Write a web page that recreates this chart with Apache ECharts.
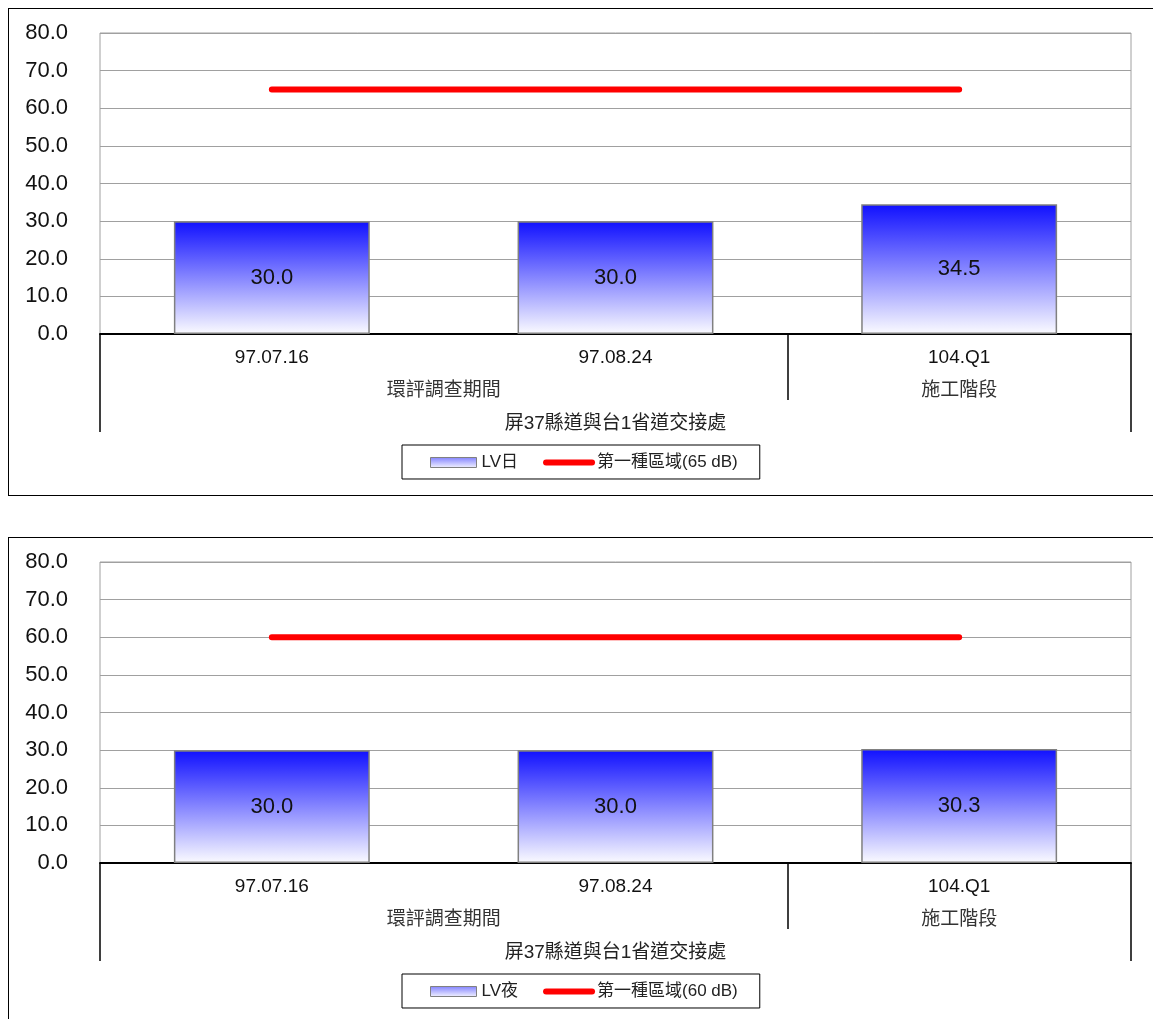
<!DOCTYPE html>
<html>
<head>
<meta charset="utf-8">
<script src="https://cdn.jsdelivr.net/npm/echarts@6/dist/echarts.min.js"></script>
<style>
  html, body { margin: 0; padding: 0; background: #fff; overflow: hidden; width: 1153px; height: 1019px; }
  .chart { position: absolute; left: 0; width: 1153px; height: 529px; }
  .frame { position: absolute; left: 8px; width: 1200px; border: 1px solid #000; pointer-events: none; }
</style>
</head>
<body>
<div id="c1" class="chart" style="top:0px"></div>
<div id="c2" class="chart" style="top:529px"></div>
<div class="frame" style="top:8px; height:486px;"></div>
<div class="frame" style="top:537px; height:600px;"></div>
<script>
// ---- data ----
const categories = ['97.07.16', '97.08.24', '104.Q1'];
const groupLabels = ['環評調查期間', '施工階段'];
const locationName = '屏37縣道與台1省道交接處';
const dayValues = [30.0, 30.0, 34.5];
const nightValues = [30.0, 30.0, 30.3];
const dayLimit = [65, 65, 65];
const nightLimit = [60, 60, 60];
const daySeriesName = 'LV日';
const nightSeriesName = 'LV夜';
const dayLimitName = '第一種區域(65 dB)';
const nightLimitName = '第一種區域(60 dB)';
const yMin = 0, yMax = 80, yStep = 10;

const FONT = '"Liberation Sans", "Noto Sans CJK TC", sans-serif';

function makeOption(barName, barValues, lineName, lineValues) {
  // 7 evenly spaced slots across the axis (boundaryGap false) for group labels and separators
  const groupSlots = ['', '', groupLabels[0], '', '', groupLabels[1], ''];
  const barGradient = new echarts.graphic.LinearGradient(0, 0, 0, 1, [
    { offset: 0, color: '#1010ff' },
    { offset: 1, color: '#fbfbff' }
  ]);
  return {
    animation: false,
    textStyle: { fontFamily: FONT },
    grid: {
      left: 100, right: 22, top: 33, bottom: 195,
      show: true, borderColor: '#a0a0a0', borderWidth: 1, backgroundColor: 'transparent'
    },
    legend: {
      left: 402, top: 445,
      padding: [9, 22, 8, 28],
      borderColor: '#000', borderWidth: 1,
      itemWidth: 46, itemHeight: 10, itemGap: 25,
      textStyle: { fontSize: 17, color: '#222', fontFamily: FONT },
      data: [
        { name: barName, icon: 'rect', itemStyle: { color: new echarts.graphic.LinearGradient(0, 0, 0, 1, [{ offset: 0, color: '#8080ff' }, { offset: 1, color: '#f4f4ff' }]), borderColor: '#808080', borderWidth: 1 } },
        { name: lineName, itemStyle: { opacity: 0 }, lineStyle: { width: 6, color: '#ff0000', cap: 'round' } }
      ]
    },
    xAxis: [
      {
        type: 'category', data: categories, position: 'bottom', boundaryGap: true,
        axisLine: { show: true, lineStyle: { color: '#000', width: 2 } },
        axisTick: { show: false },
        axisLabel: { fontSize: 19, color: '#111', margin: 14, fontFamily: FONT }
      },
      {
        type: 'category', data: groupSlots, position: 'bottom', boundaryGap: false,
        axisLine: { show: false },
        axisTick: { show: true, length: 66, interval: (i) => i === 4, lineStyle: { color: '#000', width: 1.5 } },
        axisLabel: { interval: 0, fontSize: 19, color: '#333', margin: 47, fontFamily: FONT }
      },
      {
        type: 'category', data: groupSlots.map(() => ''), position: 'bottom', boundaryGap: false,
        axisLine: { show: false },
        axisTick: { show: true, length: 98, interval: (i) => i === 0 || i === 6, lineStyle: { color: '#000', width: 1.5 } },
        axisLabel: { show: false },
        name: locationName, nameLocation: 'middle', nameGap: 80,
        nameTextStyle: { fontSize: 19, color: '#222', fontFamily: FONT }
      }
    ],
    yAxis: {
      type: 'value', min: yMin, max: yMax, interval: yStep,
      axisLine: { show: false }, axisTick: { show: false },
      axisLabel: { fontSize: 22, color: '#111', margin: 32, fontFamily: FONT, formatter: (v) => v.toFixed(1) },
      splitLine: { show: true, lineStyle: { color: '#a0a0a0', width: 1.2 } }
    },
    series: [
      {
        name: barName, type: 'bar', xAxisIndex: 0, data: barValues,
        barCategoryGap: '43%',
        itemStyle: { color: barGradient, borderColor: '#808080', borderWidth: 1.5 },
        label: { show: true, position: 'inside', fontSize: 22, color: '#111', fontFamily: FONT, formatter: (p) => p.value.toFixed(1) },
        z: 2
      },
      {
        name: lineName, type: 'line', xAxisIndex: 0, data: lineValues,
        symbol: 'none', showSymbol: false,
        lineStyle: { color: '#ff0000', width: 6, cap: 'round' },
        itemStyle: { color: '#ff0000' },
        z: 3
      }
    ]
  };
}

const chart1 = echarts.init(document.getElementById('c1'), null, { renderer: 'canvas' });
chart1.setOption(makeOption(daySeriesName, dayValues, dayLimitName, dayLimit));
const chart2 = echarts.init(document.getElementById('c2'), null, { renderer: 'canvas' });
chart2.setOption(makeOption(nightSeriesName, nightValues, nightLimitName, nightLimit));
</script>
</body>
</html>
